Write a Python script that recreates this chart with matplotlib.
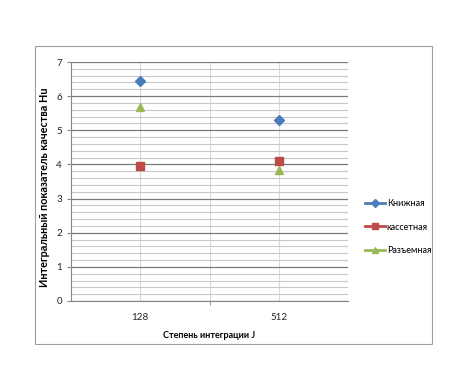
import numpy as np
import matplotlib
matplotlib.use("Agg")
import matplotlib.pyplot as plt
from matplotlib.patches import Rectangle

plt.rcParams['font.family'] = ['Lato', 'DejaVu Sans']

categories = ['128', '512']
knizhnaya = [6.45, 5.3]
kassetnaya = [3.95, 4.1]
razemnaya = [5.68, 3.85]

W, H = 453, 370
fig = plt.figure(figsize=(W / 100, H / 100), dpi=100)

# outer chart border
fig.patches.append(Rectangle((35 / W, 1 - 344 / H), 397 / W, 298 / H,
                             transform=fig.transFigure, fill=False,
                             edgecolor='#a0a0a0', linewidth=0.8))

ax = fig.add_axes([71 / W, 1 - 301 / H, 277 / W, 239 / H])

x = np.arange(len(categories))
ax.plot(x, knizhnaya, linestyle='none', marker='D', markersize=5,
        color='#4a7ebb', label='Книжная')
ax.plot(x, kassetnaya, linestyle='none', marker='s', markersize=6,
        color='#be4b48', label='кассетная')
ax.plot(x, razemnaya, linestyle='none', marker='^', markersize=6,
        color='#98b954', label='Разъемная')

ax.set_xlim(-0.5, 1.5)
ax.set_ylim(0, 7)
ax.set_xticks(x)
ax.set_xticklabels(categories, fontsize=7)
ax.set_yticks(range(8))
ax.set_yticklabels([str(v) for v in range(8)], fontsize=7)
ax.set_yticks(np.arange(0, 7.01, 0.2), minor=True)
ax.set_xticks([0.5], minor=True)

ax.grid(axis='y', which='major', color='#7a7a7a', linewidth=0.9)
ax.grid(axis='y', which='minor', color='#c8c8c8', linewidth=0.8)
ax.grid(axis='x', which='both', color='#d8d8d8', linewidth=0.8)
ax.set_axisbelow(True)

for s in ['top', 'right']:
    ax.spines[s].set_visible(False)
for s in ['left', 'bottom']:
    ax.spines[s].set_color('#868686')
ax.tick_params(axis='both', which='both', length=3, color='#868686',
               labelcolor='#222222')
ax.tick_params(axis='x', which='major', length=0, pad=9)
ax.tick_params(axis='y', which='minor', length=0)

ax.set_xlabel('Степень интеграции J', fontsize=6.5, fontweight='bold', labelpad=6)
ax.set_ylabel('Интегральный показатель качества Hu', fontsize=7.8,
              fontweight='bold')
ax.yaxis.set_label_coords(-0.075, 0.475)

handles = [plt.Line2D([], [], color=c, marker=m, markersize=s, linewidth=2)
           for c, m, s in [('#4a7ebb', 'D', 4), ('#be4b48', 's', 5),
                           ('#98b954', '^', 5)]]
fig.legend(handles, ['Книжная', 'кассетная', 'Разъемная'],
           loc='upper left', bbox_to_anchor=(357 / W, 1 - 191 / H),
           frameon=False, fontsize=6.5, handlelength=2.2,
           handletextpad=0.2, labelspacing=1.6)

fig.savefig('out.png', dpi=100)
